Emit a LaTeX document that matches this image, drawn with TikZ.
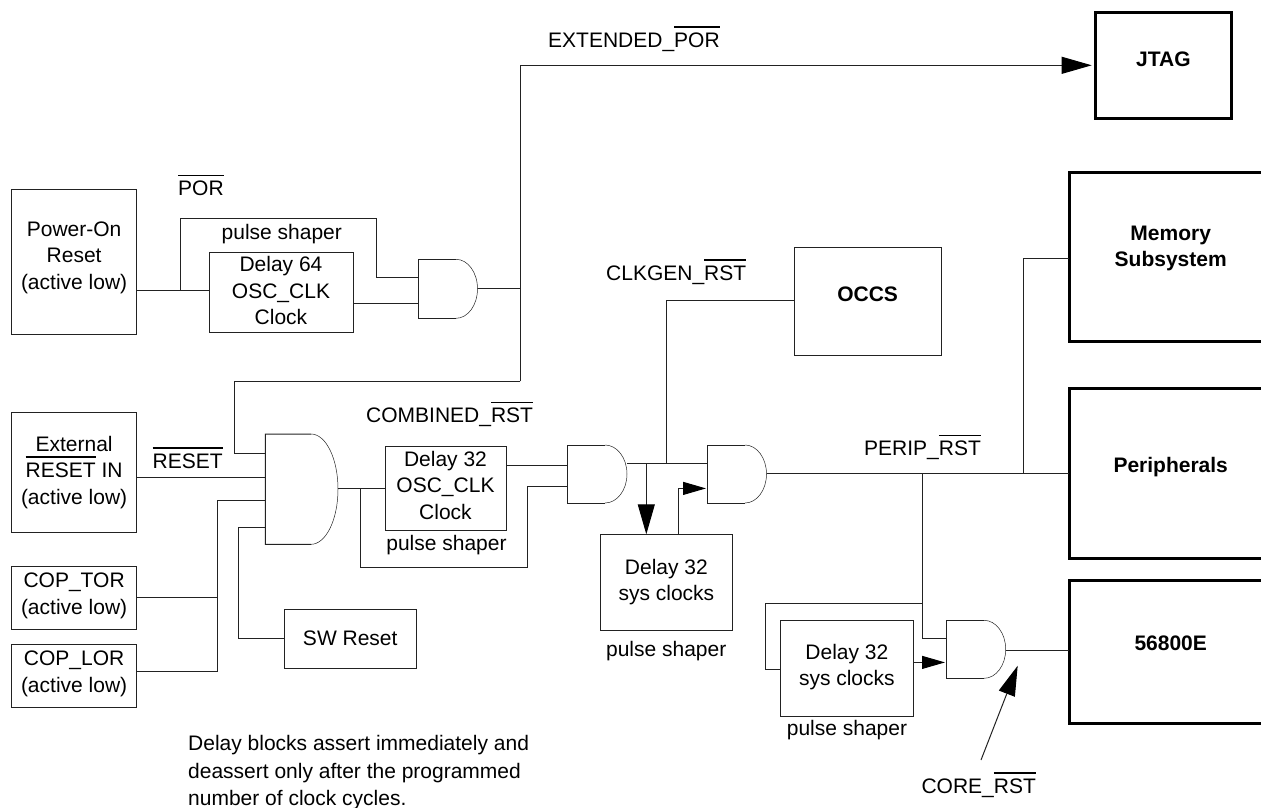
\documentclass[tikz,border=0pt]{standalone}
\usepackage{fontspec}
\setmainfont{Liberation Sans}
\usetikzlibrary{arrows.meta}
\definecolor{ink}{HTML}{222222}
\newcommand\ovl[1]{\setbox0=\hbox{#1}\rlap{\raisebox{19.5pt}[0pt][0pt]{\rule{\wd0}{1.6pt}}}\box0\relax}
\newcommand\bx[2]{\raisebox{#1pt}[0pt][0pt]{\begin{tabular}[b]{@{}c@{}}#2\end{tabular}}}
% \blk[style]{name}{x1}{y1}{x2}{y2}{baseline of last line}{text}
\newcommand\blk[8][blockbox]{%
  \pgfmathsetmacro\cxx{(#3+#5)/2}\pgfmathsetmacro\cyy{(#4+#6)/2}%
  \pgfmathsetmacro\www{#5-#3}\pgfmathsetmacro\hhh{#6-#4}\pgfmathsetmacro\ddd{\cyy-#7}%
  \node[#1,minimum width=\www pt,minimum height=\hhh pt] (#2) at (\cxx,\cyy) {\bx{\ddd}{#8}};}
% \gate{name}{x1}{y1}{x2}{y2}{x where the curve starts}
\newcommand\gate[6]{%
  \pgfmathsetmacro\cxx{(#2+#4)/2}\pgfmathsetmacro\cyy{(#3+#5)/2}%
  \pgfmathsetmacro\www{#4-#2}\pgfmathsetmacro\hhh{#5-#3}%
  \pgfmathsetmacro\rxx{#4-#6}\pgfmathsetmacro\ryy{(#5-#3)/2}%
  \node[gatebody,minimum width=\www pt,minimum height=\hhh pt] (#1) at (\cxx,\cyy) {};
  \draw[wire] (#6,#3) -- (#1.north west) -- (#1.south west) -- (#6,#5);
  \draw[gatecurve] (#6,#3) arc[start angle=90,end angle=-90,x radius=\rxx pt,y radius=\ryy pt];}
\tikzset{
  every node/.style={font=\fontsize{21}{26.5}\selectfont,text=black},
  blockbox/.style={draw=ink,line width=1pt,inner sep=0pt,outer sep=0pt},
  heavybox/.style={draw=black,line width=3pt,inner sep=0pt,outer sep=0pt,font=\fontsize{21}{26.5}\selectfont\bfseries},
  gatebody/.style={inner sep=0pt,outer sep=0pt},
  wire/.style={draw=ink,line width=1pt},
  gatecurve/.style={draw=ink,line width=.5pt},
  lbl/.style={anchor=base west,inner sep=0pt},
  lblc/.style={anchor=base,inner sep=0pt},
  bighead/.style={wire,-{Triangle[length=30pt,width=17pt,color=black,fill=black]}},
  smallhead/.style={wire,-{Triangle[length=23pt,width=13pt,color=black,fill=black]}},
}
\begin{document}
\begin{tikzpicture}[x=1pt,y=-1pt]
\useasboundingbox (0,0) rectangle (1261,807);
% blocks
\blk{por}{11.4}{189.5}{136.8}{334.7}{289}{Power-On\\Reset\\(active low)}
\blk{d64}{209}{252.3}{353}{332.3}{324.5}{Delay 64\\OSC\_CLK\\Clock}
\blk{ext}{11.4}{412.7}{136.8}{532.5}{504}{External\\\ovl{RESET} IN\\(active low)}
\blk{tor}{11.4}{566}{136.8}{629}{614}{COP\_TOR\\(active low)}
\blk{lor}{11.4}{644}{136.8}{707.3}{692.3}{COP\_LOR\\(active low)}
\blk{sw}{284}{609}{416.5}{668}{645}{SW Reset}
\blk{d32}{385}{446.5}{506}{530.5}{519}{Delay 32\\OSC\_CLK\\Clock}
\blk{sa}{600.3}{534.3}{732.5}{630.7}{600.7}{Delay 32\\sys clocks}
\blk{sb}{780.7}{620}{913}{716}{685.7}{Delay 32\\sys clocks}
\blk{occs}{794.3}{247.3}{941}{355.7}{301.7}{\bfseries OCCS}
\blk[heavybox]{jtag}{1095}{12.5}{1231.7}{118}{66.7}{JTAG}
\blk[heavybox]{mem}{1069}{172.5}{1272.4}{341.5}{266.7}{Memory\\Subsystem}
\blk[heavybox]{per}{1069}{388.5}{1272.4}{558}{472.3}{Peripherals}
\blk[heavybox]{core}{1069}{580}{1272.4}{723}{650.7}{56800E}
% gates
\gate{ga}{418}{259.3}{477.5}{318.3}{456}
\gate{gb}{265.4}{434}{338}{544.3}{311}
\gate{gc}{567.3}{445}{627}{503}{605}
\gate{gd}{707.3}{445}{766.5}{503}{745}
\gate{ge}{946.3}{620.3}{1005.7}{678.3}{984}
% junctions and free ends
\coordinate (jpor) at (180,290.3);
\coordinate (jout) at (520.4,288.7);
\coordinate (jup) at (520.4,65.3);
\coordinate (jlow) at (520.4,381);
\coordinate (jtop) at (217,500);
\coordinate (jsh) at (360.5,488.5);
\coordinate (jclk) at (666.7,463.5);
\coordinate (jdn) at (646.3,463.5);
\coordinate (jper) at (922,473.7);
\coordinate (jmem) at (1023,473.7);
\coordinate (jloop) at (922,603);
\coordinate (jtip) at (1091.7,65.3);
\coordinate (coretail) at (981,760);
\coordinate (coretip) at (1017.7,665.7);
\coordinate (rettip) at (706,488.4);
\coordinate (looptip) at (945,662.4);
% connectors: power-on part
\draw[wire] (por.east |- jpor) -- (d64.west |- jpor);
\draw[wire] (jpor) -- (180,218) -- (376.5,218) -- (376.5,277) -- (ga.west |- 0,277);
\draw[wire] (d64.east |- 0,303) -- (ga.west |- 0,303);
\draw[wire] (ga.east |- jout) -- (jout);
\draw[bighead] (jlow) -- (jup) -- (jtip);
% reset combining gate
\draw[wire] (jlow) -- (234.5,381) -- (234.5,453) -- (gb.west |- 0,453);
\draw[wire] (ext.east |- 0,477) -- (gb.west |- 0,477);
\draw[wire] (tor.east |- 0,597) -- (jtop |- 0,597);
\draw[wire] (lor.east |- 0,671.5) -- (217,671.5) -- (jtop) -- (gb.west |- jtop);
\draw[wire] (gb.west |- 0,527) -- (238,527) -- (238,638) -- (sw.west |- 0,638);
% combined reset
\draw[wire] (gb.east |- jsh) -- (d32.west |- jsh);
\draw[wire] (jsh) -- (360.5,567) -- (527.5,567) -- (527.5,486.3) -- (gc.west |- 0,486.3);
\draw[wire] (d32.east |- 0,465.3) -- (gc.west |- 0,465.3);
\draw[wire] (gc.east |- jclk) -- (gd.west |- jclk);
\draw[wire] (jclk) -- (666.7,300.5) -- (occs.west |- 0,300.5);
\draw[bighead] (jdn) -- (jdn |- sa.north);
\draw[smallhead] (sa.north -| 678.5,0) -- (678.5,488.4) -- (rettip);
% peripheral reset
\draw[wire] (gd.east |- jper) -- (per.west |- jper);
\draw[wire] (jmem) -- (1023,258) -- (mem.west |- 0,258);
\draw[wire] (jper) -- (jloop) -- (922,638.7) -- (ge.west |- 0,638.7);
\draw[wire] (jloop) -- (765,603) -- (765,669.3) -- (sb.west |- 0,669.3);
\draw[smallhead] (sb.east |- looptip) -- (looptip);
\draw[wire] (ge.east |- 0,650.3) -- (core.west |- 0,650.3);
\draw[bighead] (coretail) -- (coretip);
% labels
\node[lbl] (t1) at (548,47) {EXTENDED\_\ovl{POR}};
\node[lbl] (t2) at (178,195.7) {\ovl{POR}};
\node[lblc] (t3) at (281.8,239) {pulse shaper};
\node[lbl] (t4) at (606,280) {CLKGEN\_\ovl{RST}};
\node[lbl] (t5) at (366,422.7) {COMBINED\_\ovl{RST}};
\node[lbl] (t6) at (152.5,468.3) {\ovl{RESET}};
\node[lblc] (t7) at (446.5,550.7) {pulse shaper};
\node[lbl] (t8) at (864,455.7) {PERIP\_\ovl{RST}};
\node[lblc] (t9) at (666.2,656) {pulse shaper};
\node[lblc] (t10) at (847,735) {pulse shaper};
\node[lblc] (t11) at (978.7,793) {CORE\_\ovl{RST}};
\node[lbl] (t12) at (188,750.7) {Delay blocks assert immediately and};
\node[lbl] (t13) at (188,778.3) {deassert only after the programmed};
\node[lbl] (t14) at (188,805) {number of clock cycles.};
\end{tikzpicture}
\end{document}
